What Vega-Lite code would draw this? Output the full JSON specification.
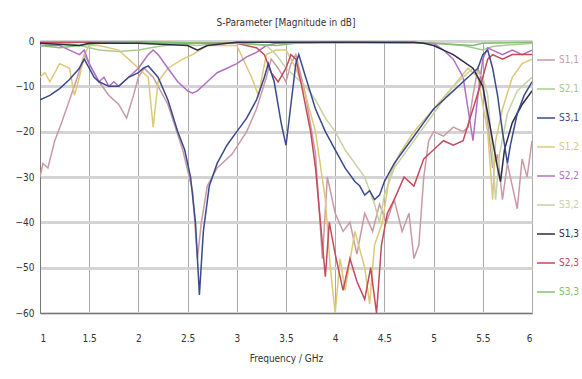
{
"$schema": "https://vega.github.io/schema/vega-lite/v6.json",
"width": 492, "height": 272,
"autosize": {"type": "none"},
"padding": {"left": 40, "top": 41, "right": 50, "bottom": 66},
"background": "white",
"title": {"text": "S-Parameter [Magnitude in dB]", "font": "Liberation Sans Narrow, DejaVu Sans Condensed, Liberation Sans, sans-serif", "fontSize": 10, "fontWeight": "normal", "color": "#333", "offset": 8},
"config": {"view": {"stroke": "#999", "strokeWidth": 1}},
"datasets": {"p": [
{"s":"S1,1","f":1.0,"d":-30},{"s":"S1,1","f":1.03,"d":-27},{"s":"S1,1","f":1.08,"d":-28},{"s":"S1,1","f":1.15,"d":-22},{"s":"S1,1","f":1.22,"d":-18},{"s":"S1,1","f":1.3,"d":-13},{"s":"S1,1","f":1.38,"d":-8},{"s":"S1,1","f":1.45,"d":-3},{"s":"S1,1","f":1.5,"d":-5},{"s":"S1,1","f":1.6,"d":-9},{"s":"S1,1","f":1.7,"d":-12},{"s":"S1,1","f":1.8,"d":-14},{"s":"S1,1","f":1.88,"d":-17},{"s":"S1,1","f":1.95,"d":-12},{"s":"S1,1","f":2.0,"d":-8},{"s":"S1,1","f":2.06,"d":-6},{"s":"S1,1","f":2.15,"d":-8},{"s":"S1,1","f":2.3,"d":-14},{"s":"S1,1","f":2.45,"d":-24},{"s":"S1,1","f":2.55,"d":-33},{"s":"S1,1","f":2.6,"d":-48},{"s":"S1,1","f":2.64,"d":-40},{"s":"S1,1","f":2.7,"d":-32},{"s":"S1,1","f":2.8,"d":-28},{"s":"S1,1","f":2.95,"d":-25},{"s":"S1,1","f":3.1,"d":-20},{"s":"S1,1","f":3.2,"d":-15},{"s":"S1,1","f":3.3,"d":-8},{"s":"S1,1","f":3.35,"d":-4},{"s":"S1,1","f":3.42,"d":-6},{"s":"S1,1","f":3.5,"d":-9},{"s":"S1,1","f":3.55,"d":-5},{"s":"S1,1","f":3.6,"d":-3},{"s":"S1,1","f":3.7,"d":-12},{"s":"S1,1","f":3.8,"d":-25},{"s":"S1,1","f":3.87,"d":-48},{"s":"S1,1","f":3.92,"d":-30},{"s":"S1,1","f":4.0,"d":-38},{"s":"S1,1","f":4.08,"d":-42},{"s":"S1,1","f":4.15,"d":-40},{"s":"S1,1","f":4.22,"d":-47},{"s":"S1,1","f":4.3,"d":-38},{"s":"S1,1","f":4.38,"d":-42},{"s":"S1,1","f":4.45,"d":-36},{"s":"S1,1","f":4.52,"d":-40},{"s":"S1,1","f":4.6,"d":-35},{"s":"S1,1","f":4.68,"d":-42},{"s":"S1,1","f":4.75,"d":-38},{"s":"S1,1","f":4.8,"d":-48},{"s":"S1,1","f":4.85,"d":-45},{"s":"S1,1","f":4.9,"d":-30},{"s":"S1,1","f":4.95,"d":-22},{"s":"S1,1","f":5.0,"d":-20},{"s":"S1,1","f":5.1,"d":-21},{"s":"S1,1","f":5.2,"d":-19},{"s":"S1,1","f":5.3,"d":-20},{"s":"S1,1","f":5.35,"d":-19},{"s":"S1,1","f":5.4,"d":-12},{"s":"S1,1","f":5.45,"d":-6},{"s":"S1,1","f":5.5,"d":-9},{"s":"S1,1","f":5.55,"d":-18},{"s":"S1,1","f":5.6,"d":-28},{"s":"S1,1","f":5.65,"d":-25},{"s":"S1,1","f":5.7,"d":-35},{"s":"S1,1","f":5.75,"d":-27},{"s":"S1,1","f":5.8,"d":-32},{"s":"S1,1","f":5.85,"d":-37},{"s":"S1,1","f":5.9,"d":-26},{"s":"S1,1","f":5.95,"d":-30},{"s":"S1,1","f":6.0,"d":-22},
{"s":"S2,1","f":1.0,"d":-0.5},{"s":"S2,1","f":1.3,"d":-0.6},{"s":"S2,1","f":1.45,"d":-1.2},{"s":"S2,1","f":1.6,"d":-2},{"s":"S2,1","f":1.8,"d":-2.3},{"s":"S2,1","f":2.0,"d":-2},{"s":"S2,1","f":2.2,"d":-1.2},{"s":"S2,1","f":2.4,"d":-0.6},{"s":"S2,1","f":2.6,"d":-1},{"s":"S2,1","f":2.8,"d":-0.5},{"s":"S2,1","f":3.0,"d":-0.3},{"s":"S2,1","f":3.5,"d":-0.3},{"s":"S2,1","f":4.0,"d":-0.4},{"s":"S2,1","f":4.5,"d":-0.3},{"s":"S2,1","f":5.0,"d":-0.5},{"s":"S2,1","f":5.3,"d":-1},{"s":"S2,1","f":5.5,"d":-2},{"s":"S2,1","f":5.6,"d":-1.2},{"s":"S2,1","f":5.8,"d":-0.8},{"s":"S2,1","f":6.0,"d":-0.5},
{"s":"S1,2","f":1.0,"d":-8},{"s":"S1,2","f":1.05,"d":-7},{"s":"S1,2","f":1.1,"d":-9},{"s":"S1,2","f":1.15,"d":-7},{"s":"S1,2","f":1.2,"d":-5},{"s":"S1,2","f":1.3,"d":-6},{"s":"S1,2","f":1.35,"d":-12},{"s":"S1,2","f":1.4,"d":-8},{"s":"S1,2","f":1.45,"d":-3},{"s":"S1,2","f":1.5,"d":-1},{"s":"S1,2","f":1.6,"d":-1},{"s":"S1,2","f":1.8,"d":-2},{"s":"S1,2","f":1.9,"d":-4},{"s":"S1,2","f":2.0,"d":-6},{"s":"S1,2","f":2.1,"d":-8},{"s":"S1,2","f":2.15,"d":-19},{"s":"S1,2","f":2.2,"d":-9},{"s":"S1,2","f":2.3,"d":-6},{"s":"S1,2","f":2.45,"d":-4},{"s":"S1,2","f":2.55,"d":-3},{"s":"S1,2","f":2.7,"d":-1},{"s":"S1,2","f":3.0,"d":-1},{"s":"S1,2","f":3.15,"d":-8},{"s":"S1,2","f":3.22,"d":-12},{"s":"S1,2","f":3.3,"d":-3},{"s":"S1,2","f":3.4,"d":-2},{"s":"S1,2","f":3.5,"d":-2},{"s":"S1,2","f":3.6,"d":-6},{"s":"S1,2","f":3.7,"d":-12},{"s":"S1,2","f":3.8,"d":-20},{"s":"S1,2","f":3.9,"d":-35},{"s":"S1,2","f":3.95,"d":-50},{"s":"S1,2","f":4.0,"d":-60},{"s":"S1,2","f":4.05,"d":-48},{"s":"S1,2","f":4.1,"d":-55},{"s":"S1,2","f":4.2,"d":-42},{"s":"S1,2","f":4.3,"d":-50},{"s":"S1,2","f":4.35,"d":-58},{"s":"S1,2","f":4.4,"d":-45},{"s":"S1,2","f":4.48,"d":-40},{"s":"S1,2","f":4.55,"d":-30},{"s":"S1,2","f":4.65,"d":-25},{"s":"S1,2","f":4.8,"d":-20},{"s":"S1,2","f":5.0,"d":-15},{"s":"S1,2","f":5.2,"d":-10},{"s":"S1,2","f":5.35,"d":-6},{"s":"S1,2","f":5.45,"d":-8},{"s":"S1,2","f":5.55,"d":-20},{"s":"S1,2","f":5.6,"d":-35},{"s":"S1,2","f":5.63,"d":-22},{"s":"S1,2","f":5.7,"d":-15},{"s":"S1,2","f":5.8,"d":-8},{"s":"S1,2","f":5.9,"d":-5},{"s":"S1,2","f":6.0,"d":-4},
{"s":"S2,2","f":1.0,"d":-1},{"s":"S2,2","f":1.2,"d":-1},{"s":"S2,2","f":1.3,"d":-2},{"s":"S2,2","f":1.4,"d":-3},{"s":"S2,2","f":1.45,"d":-2},{"s":"S2,2","f":1.5,"d":-5},{"s":"S2,2","f":1.55,"d":-7},{"s":"S2,2","f":1.6,"d":-9},{"s":"S2,2","f":1.65,"d":-8},{"s":"S2,2","f":1.7,"d":-10},{"s":"S2,2","f":1.75,"d":-9},{"s":"S2,2","f":1.8,"d":-10},{"s":"S2,2","f":1.85,"d":-9},{"s":"S2,2","f":1.9,"d":-8},{"s":"S2,2","f":2.0,"d":-6},{"s":"S2,2","f":2.1,"d":-3},{"s":"S2,2","f":2.15,"d":-2},{"s":"S2,2","f":2.2,"d":-3},{"s":"S2,2","f":2.3,"d":-6},{"s":"S2,2","f":2.4,"d":-9},{"s":"S2,2","f":2.5,"d":-11},{"s":"S2,2","f":2.55,"d":-11.5},{"s":"S2,2","f":2.6,"d":-11},{"s":"S2,2","f":2.7,"d":-9},{"s":"S2,2","f":2.8,"d":-7},{"s":"S2,2","f":2.9,"d":-6},{"s":"S2,2","f":3.0,"d":-5},{"s":"S2,2","f":3.1,"d":-3.5},{"s":"S2,2","f":3.2,"d":-2.5},{"s":"S2,2","f":3.3,"d":-1},{"s":"S2,2","f":3.4,"d":-0.5},{"s":"S2,2","f":4.0,"d":-0.3},{"s":"S2,2","f":5.0,"d":-0.5},{"s":"S2,2","f":5.1,"d":-2},{"s":"S2,2","f":5.2,"d":-4},{"s":"S2,2","f":5.3,"d":-8},{"s":"S2,2","f":5.35,"d":-15},{"s":"S2,2","f":5.4,"d":-22},{"s":"S2,2","f":5.45,"d":-12},{"s":"S2,2","f":5.5,"d":-4},{"s":"S2,2","f":5.55,"d":-1.5},{"s":"S2,2","f":5.6,"d":-2},{"s":"S2,2","f":5.7,"d":-3},{"s":"S2,2","f":5.8,"d":-2},{"s":"S2,2","f":5.9,"d":-3},{"s":"S2,2","f":6.0,"d":-2},
{"s":"S3,2","f":1.0,"d":-0.3},{"s":"S3,2","f":2.0,"d":-0.3},{"s":"S3,2","f":2.5,"d":-0.5},{"s":"S3,2","f":3.0,"d":-0.5},{"s":"S3,2","f":3.3,"d":-1},{"s":"S3,2","f":3.4,"d":-3},{"s":"S3,2","f":3.5,"d":-6},{"s":"S3,2","f":3.6,"d":-8},{"s":"S3,2","f":3.7,"d":-10},{"s":"S3,2","f":3.8,"d":-13},{"s":"S3,2","f":3.9,"d":-17},{"s":"S3,2","f":4.0,"d":-20},{"s":"S3,2","f":4.1,"d":-24},{"s":"S3,2","f":4.2,"d":-27},{"s":"S3,2","f":4.3,"d":-30},{"s":"S3,2","f":4.4,"d":-36},{"s":"S3,2","f":4.45,"d":-40},{"s":"S3,2","f":4.5,"d":-34},{"s":"S3,2","f":4.6,"d":-28},{"s":"S3,2","f":4.7,"d":-25},{"s":"S3,2","f":4.8,"d":-22},{"s":"S3,2","f":4.9,"d":-19},{"s":"S3,2","f":5.0,"d":-16},{"s":"S3,2","f":5.1,"d":-13},{"s":"S3,2","f":5.2,"d":-10},{"s":"S3,2","f":5.3,"d":-8},{"s":"S3,2","f":5.4,"d":-6},{"s":"S3,2","f":5.5,"d":-8},{"s":"S3,2","f":5.55,"d":-12},{"s":"S3,2","f":5.6,"d":-25},{"s":"S3,2","f":5.63,"d":-35},{"s":"S3,2","f":5.67,"d":-25},{"s":"S3,2","f":5.75,"d":-16},{"s":"S3,2","f":5.85,"d":-11},{"s":"S3,2","f":6.0,"d":-8},
{"s":"S2,3","f":1.0,"d":-0.3},{"s":"S2,3","f":2.0,"d":-0.3},{"s":"S2,3","f":3.0,"d":-0.5},{"s":"S2,3","f":3.2,"d":-1.5},{"s":"S2,3","f":3.28,"d":-3},{"s":"S2,3","f":3.35,"d":-7},{"s":"S2,3","f":3.42,"d":-9},{"s":"S2,3","f":3.5,"d":-6},{"s":"S2,3","f":3.55,"d":-3},{"s":"S2,3","f":3.6,"d":-4},{"s":"S2,3","f":3.66,"d":-10},{"s":"S2,3","f":3.75,"d":-20},{"s":"S2,3","f":3.8,"d":-28},{"s":"S2,3","f":3.85,"d":-40},{"s":"S2,3","f":3.9,"d":-52},{"s":"S2,3","f":3.94,"d":-40},{"s":"S2,3","f":4.0,"d":-47},{"s":"S2,3","f":4.08,"d":-55},{"s":"S2,3","f":4.15,"d":-48},{"s":"S2,3","f":4.22,"d":-53},{"s":"S2,3","f":4.3,"d":-57},{"s":"S2,3","f":4.36,"d":-50},{"s":"S2,3","f":4.42,"d":-60},{"s":"S2,3","f":4.47,"d":-45},{"s":"S2,3","f":4.53,"d":-38},{"s":"S2,3","f":4.6,"d":-35},{"s":"S2,3","f":4.7,"d":-30},{"s":"S2,3","f":4.8,"d":-32},{"s":"S2,3","f":4.9,"d":-26},{"s":"S2,3","f":5.0,"d":-24},{"s":"S2,3","f":5.1,"d":-22},{"s":"S2,3","f":5.2,"d":-23},{"s":"S2,3","f":5.3,"d":-22},{"s":"S2,3","f":5.4,"d":-15},{"s":"S2,3","f":5.5,"d":-8},{"s":"S2,3","f":5.55,"d":-4},{"s":"S2,3","f":5.6,"d":-3},{"s":"S2,3","f":5.7,"d":-4},{"s":"S2,3","f":5.8,"d":-3},{"s":"S2,3","f":6.0,"d":-3},
{"s":"S3,3","f":1.0,"d":-1},{"s":"S3,3","f":1.2,"d":-1.5},{"s":"S3,3","f":1.4,"d":-1},{"s":"S3,3","f":1.6,"d":-0.5},{"s":"S3,3","f":2.0,"d":-0.3},{"s":"S3,3","f":3.0,"d":-0.5},{"s":"S3,3","f":3.4,"d":-1},{"s":"S3,3","f":3.6,"d":-0.5},{"s":"S3,3","f":4.0,"d":-0.3},{"s":"S3,3","f":5.0,"d":-0.5},{"s":"S3,3","f":5.4,"d":-1},{"s":"S3,3","f":5.5,"d":-0.5},{"s":"S3,3","f":6.0,"d":-0.3},
{"s":"S1,3","f":1.0,"d":-0.5},{"s":"S1,3","f":1.4,"d":-1},{"s":"S1,3","f":1.5,"d":-0.5},{"s":"S1,3","f":2.0,"d":-0.5},{"s":"S1,3","f":2.5,"d":-1},{"s":"S1,3","f":2.6,"d":-2},{"s":"S1,3","f":2.7,"d":-1},{"s":"S1,3","f":3.0,"d":-0.3},{"s":"S1,3","f":4.0,"d":-0.3},{"s":"S1,3","f":4.8,"d":-0.3},{"s":"S1,3","f":4.9,"d":-0.5},{"s":"S1,3","f":5.0,"d":-1},{"s":"S1,3","f":5.1,"d":-2},{"s":"S1,3","f":5.2,"d":-3},{"s":"S1,3","f":5.3,"d":-4.5},{"s":"S1,3","f":5.4,"d":-6},{"s":"S1,3","f":5.5,"d":-10},{"s":"S1,3","f":5.55,"d":-16},{"s":"S1,3","f":5.6,"d":-22},{"s":"S1,3","f":5.65,"d":-28},{"s":"S1,3","f":5.68,"d":-31},{"s":"S1,3","f":5.72,"d":-24},{"s":"S1,3","f":5.8,"d":-18},{"s":"S1,3","f":5.9,"d":-14},{"s":"S1,3","f":6.0,"d":-11},
{"s":"S3,1","f":1.0,"d":-13},{"s":"S3,1","f":1.1,"d":-12},{"s":"S3,1","f":1.2,"d":-10.5},{"s":"S3,1","f":1.3,"d":-8.5},{"s":"S3,1","f":1.4,"d":-6},{"s":"S3,1","f":1.45,"d":-4},{"s":"S3,1","f":1.5,"d":-6},{"s":"S3,1","f":1.55,"d":-8},{"s":"S3,1","f":1.6,"d":-9},{"s":"S3,1","f":1.7,"d":-10},{"s":"S3,1","f":1.8,"d":-10},{"s":"S3,1","f":1.85,"d":-9},{"s":"S3,1","f":1.9,"d":-8},{"s":"S3,1","f":2.0,"d":-7},{"s":"S3,1","f":2.05,"d":-6},{"s":"S3,1","f":2.1,"d":-5.5},{"s":"S3,1","f":2.2,"d":-8},{"s":"S3,1","f":2.3,"d":-13},{"s":"S3,1","f":2.4,"d":-20},{"s":"S3,1","f":2.47,"d":-24},{"s":"S3,1","f":2.53,"d":-30},{"s":"S3,1","f":2.58,"d":-40},{"s":"S3,1","f":2.62,"d":-56},{"s":"S3,1","f":2.66,"d":-42},{"s":"S3,1","f":2.72,"d":-32},{"s":"S3,1","f":2.8,"d":-27},{"s":"S3,1","f":2.9,"d":-23},{"s":"S3,1","f":3.0,"d":-20},{"s":"S3,1","f":3.1,"d":-17},{"s":"S3,1","f":3.2,"d":-13},{"s":"S3,1","f":3.28,"d":-8},{"s":"S3,1","f":3.32,"d":-5},{"s":"S3,1","f":3.38,"d":-9},{"s":"S3,1","f":3.45,"d":-18},{"s":"S3,1","f":3.5,"d":-23},{"s":"S3,1","f":3.55,"d":-14},{"s":"S3,1","f":3.6,"d":-5},{"s":"S3,1","f":3.63,"d":-3},{"s":"S3,1","f":3.7,"d":-8},{"s":"S3,1","f":3.8,"d":-15},{"s":"S3,1","f":3.9,"d":-20},{"s":"S3,1","f":4.0,"d":-24},{"s":"S3,1","f":4.1,"d":-28},{"s":"S3,1","f":4.2,"d":-31},{"s":"S3,1","f":4.25,"d":-32},{"s":"S3,1","f":4.3,"d":-34},{"s":"S3,1","f":4.35,"d":-33},{"s":"S3,1","f":4.4,"d":-35},{"s":"S3,1","f":4.45,"d":-34},{"s":"S3,1","f":4.5,"d":-31},{"s":"S3,1","f":4.6,"d":-27},{"s":"S3,1","f":4.7,"d":-24},{"s":"S3,1","f":4.8,"d":-21},{"s":"S3,1","f":4.9,"d":-18},{"s":"S3,1","f":5.0,"d":-15},{"s":"S3,1","f":5.1,"d":-13},{"s":"S3,1","f":5.2,"d":-11},{"s":"S3,1","f":5.3,"d":-9},{"s":"S3,1","f":5.4,"d":-7},{"s":"S3,1","f":5.45,"d":-6},{"s":"S3,1","f":5.5,"d":-3},{"s":"S3,1","f":5.55,"d":-2},{"s":"S3,1","f":5.6,"d":-6},{"s":"S3,1","f":5.65,"d":-12},{"s":"S3,1","f":5.7,"d":-20},{"s":"S3,1","f":5.75,"d":-27},{"s":"S3,1","f":5.78,"d":-23},{"s":"S3,1","f":5.85,"d":-16},{"s":"S3,1","f":5.92,"d":-12},{"s":"S3,1","f":6.0,"d":-9}
]},
"data": {"name": "p"},
"mark": {"type": "line", "strokeWidth": 1.5, "clip": true},
"encoding": {
"x": {"field": "f", "type": "quantitative", "scale": {"domain": [1, 6], "nice": false},
"axis": {"title": "Frequency / GHz", "values": [1,1.5,2,2.5,3,3.5,4,4.5,5,5.5,6], "format": "~g", "labelFont": "Liberation Sans Narrow, DejaVu Sans Condensed, Liberation Sans, sans-serif", "labelFontSize": 10, "labelColor": "#333", "titleFont": "Liberation Sans Narrow, DejaVu Sans Condensed, Liberation Sans, sans-serif", "titleFontSize": 10, "titleFontWeight": "normal", "titleColor": "#333", "ticks": false, "labelPadding": 20, "titlePadding": 10, "domainColor": "#777", "gridColor": "#aaa", "gridWidth": 1}},
"y": {"field": "d", "type": "quantitative", "scale": {"domain": [-60, 0], "nice": false},
"axis": {"title": null, "values": [0,-10,-20,-30,-40,-50,-60], "labelFont": "Liberation Sans Narrow, DejaVu Sans Condensed, Liberation Sans, sans-serif", "labelFontSize": 10, "labelColor": "#333", "ticks": false, "labelPadding": 6, "domainColor": "#777", "gridColor": "#d4d4d4", "gridWidth": 3}},
"color": {"field": "s", "type": "nominal",
"scale": {"domain": ["S1,1","S2,1","S3,1","S1,2","S2,2","S3,2","S1,3","S2,3","S3,3"], "range": ["#c99aa4","#a6cc8e","#3a4a8c","#dcc878","#b070c4","#c6d2a4","#2c2c44","#c44a5c","#80c070"]},
"legend": {"orient": "none", "legendX": 496, "legendY": 9, "title": null, "symbolType": "stroke", "symbolSize": 324, "symbolStrokeWidth": 1.5, "rowPadding": 14, "labelOffset": 3, "labelFont": "Liberation Sans Narrow, DejaVu Sans Condensed, Liberation Sans, sans-serif", "labelFontSize": 10, "labelColor": {"expr": "scale('color', datum.value)"}, "padding": 0}}
}
}
